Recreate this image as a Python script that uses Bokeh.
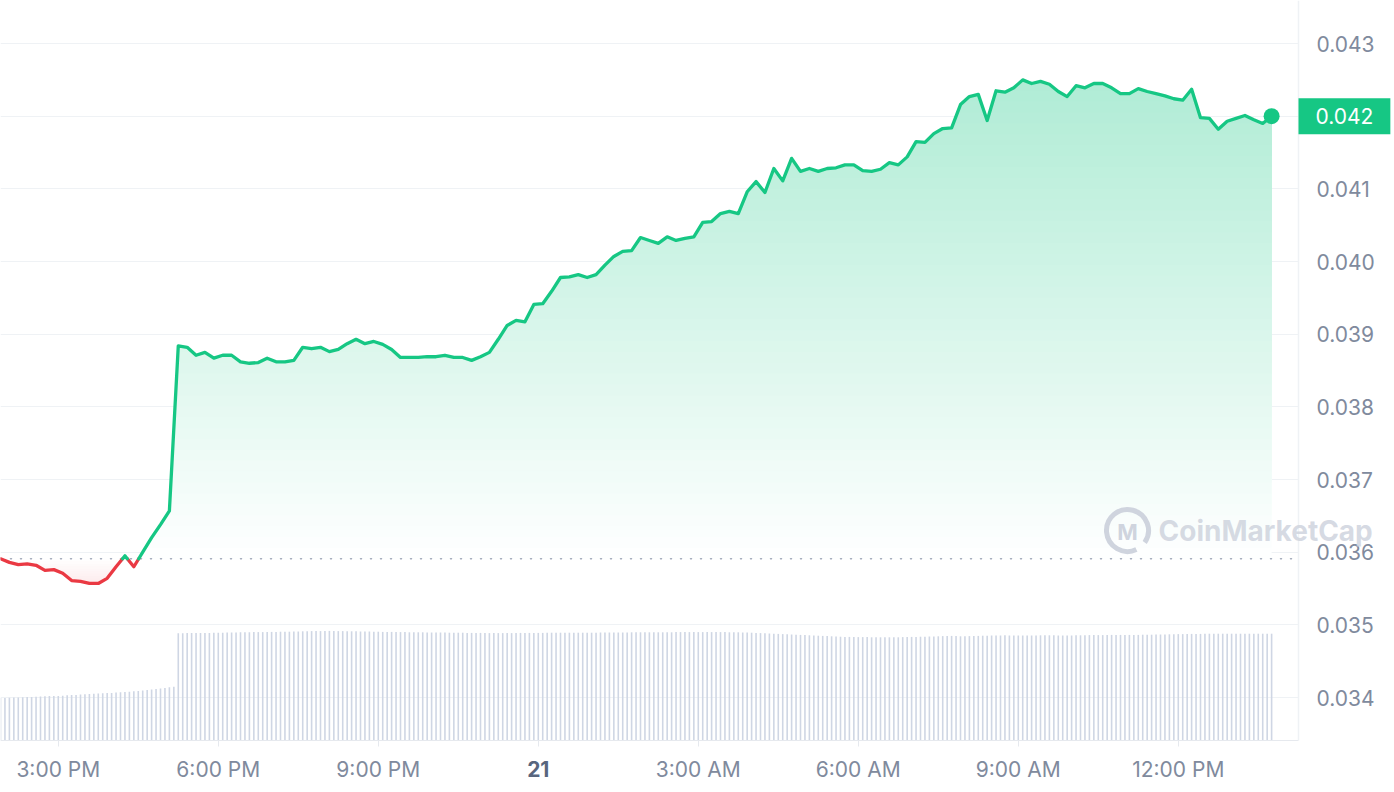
import numpy as np
import pandas as pd
from bokeh.plotting import figure
from bokeh.models import Range1d, FixedTicker, Label
from bokeh.embed import file_html
from bokeh.resources import INLINE

# ---------------- data ----------------
START = "2024-05-20 13:55"

price = [
    0.03591, 0.03586, 0.03583, 0.03584, 0.03582, 0.03575, 0.03576, 0.03571, 0.03561, 0.03560,
    0.03557, 0.03557, 0.03564, 0.03580, 0.03595, 0.03580, 0.03600, 0.03620, 0.03638, 0.03657,
    0.03884, 0.03882, 0.03871, 0.03875, 0.03867, 0.03871, 0.03871, 0.03862, 0.03860, 0.03861,
    0.03867, 0.03862, 0.03862, 0.03864, 0.03882, 0.03880, 0.03882, 0.03876, 0.03879, 0.03887,
    0.03893, 0.03887, 0.03890, 0.03886, 0.03879, 0.03868, 0.03868, 0.03868, 0.03869, 0.03869,
    0.03871, 0.03868, 0.03868, 0.03864, 0.03869, 0.03875, 0.03893, 0.03912, 0.03919, 0.03917,
    0.03941, 0.03942, 0.03959, 0.03978, 0.03979, 0.03982, 0.03978, 0.03982, 0.03995, 0.04007,
    0.04014, 0.04015, 0.04033, 0.04029, 0.04025, 0.04034, 0.04029, 0.04032, 0.04034, 0.04054,
    0.04055, 0.04066, 0.04069, 0.04066, 0.04096, 0.04110, 0.04095, 0.04128, 0.04111, 0.04142,
    0.04124, 0.04128, 0.04124, 0.04128, 0.04129, 0.04133, 0.04133, 0.04125, 0.04124, 0.04127,
    0.04136, 0.04133, 0.04144, 0.04165, 0.04164, 0.04176, 0.04183, 0.04184, 0.04216, 0.04227,
    0.04230, 0.04194, 0.04235, 0.04233, 0.04239, 0.04250, 0.04245, 0.04248, 0.04244, 0.04234,
    0.04227, 0.04242, 0.04239, 0.04245, 0.04245, 0.04239, 0.04231, 0.04231, 0.04238, 0.04234,
    0.04231, 0.04228, 0.04224, 0.04222, 0.04237, 0.04198, 0.04197, 0.04182, 0.04193, 0.04197,
    0.04201, 0.04195, 0.04190, 0.04200,
]

# 24h volume (millions), one bar every 5 minutes
volume_m = [
    2.12, 2.13, 2.14, 2.15, 2.15, 2.16, 2.17, 2.18, 2.19, 2.20,
    2.21, 2.22, 2.23, 2.23, 2.24, 2.26, 2.27, 2.28, 2.30, 2.31,
    2.33, 2.34, 2.35, 2.36, 2.37, 2.38, 2.40, 2.41, 2.43, 2.44,
    2.46, 2.48, 2.50, 2.52, 2.55, 2.57, 2.60, 2.63, 2.66, 2.69,
    5.36, 5.36, 5.37, 5.37, 5.37, 5.38, 5.38, 5.38, 5.39, 5.39,
    5.39, 5.40, 5.40, 5.40, 5.41, 5.41, 5.41, 5.42, 5.42, 5.42,
    5.43, 5.43, 5.43, 5.44, 5.44, 5.44, 5.45, 5.45, 5.46, 5.46,
    5.47, 5.47, 5.47, 5.48, 5.48, 5.47, 5.47, 5.47, 5.46, 5.46,
    5.46, 5.45, 5.45, 5.45, 5.44, 5.44, 5.43, 5.43, 5.43, 5.42,
    5.42, 5.42, 5.41, 5.41, 5.41, 5.41, 5.40, 5.40, 5.40, 5.40,
    5.40, 5.39, 5.39, 5.39, 5.39, 5.38, 5.38, 5.38, 5.38, 5.37,
    5.37, 5.37, 5.37, 5.37, 5.37, 5.37, 5.37, 5.38, 5.38, 5.38,
    5.38, 5.38, 5.38, 5.39, 5.39, 5.39, 5.39, 5.39, 5.39, 5.39,
    5.39, 5.39, 5.39, 5.39, 5.39, 5.40, 5.40, 5.40, 5.40, 5.40,
    5.40, 5.40, 5.41, 5.41, 5.41, 5.41, 5.41, 5.41, 5.41, 5.41,
    5.41, 5.41, 5.42, 5.42, 5.42, 5.42, 5.42, 5.42, 5.42, 5.42,
    5.42, 5.42, 5.42, 5.42, 5.41, 5.41, 5.41, 5.40, 5.40, 5.39,
    5.38, 5.37, 5.36, 5.35, 5.34, 5.33, 5.32, 5.31, 5.30, 5.29,
    5.28, 5.27, 5.26, 5.25, 5.24, 5.23, 5.22, 5.21, 5.20, 5.19,
    5.18, 5.18, 5.17, 5.17, 5.17, 5.17, 5.16, 5.16, 5.16, 5.16,
    5.16, 5.16, 5.16, 5.17, 5.17, 5.18, 5.18, 5.19, 5.19, 5.20,
    5.20, 5.21, 5.22, 5.22, 5.23, 5.23, 5.21, 5.21, 5.22, 5.22,
    5.23, 5.24, 5.24, 5.25, 5.25, 5.25, 5.26, 5.25, 5.25, 5.25,
    5.25, 5.25, 5.25, 5.25, 5.26, 5.26, 5.26, 5.26, 5.25, 5.25,
    5.25, 5.25, 5.26, 5.26, 5.26, 5.27, 5.27, 5.27, 5.27, 5.27,
    5.28, 5.28, 5.28, 5.28, 5.28, 5.28, 5.28, 5.29, 5.29, 5.29,
    5.30, 5.30, 5.30, 5.31, 5.31, 5.32, 5.32, 5.33, 5.33, 5.33,
    5.33, 5.34, 5.34, 5.34, 5.34, 5.34, 5.34, 5.34, 5.34, 5.34,
    5.34, 5.34, 5.34, 5.34, 5.34, 5.34, 5.34,
]

x_tick_times = ["2024-05-20 15:00", "2024-05-20 18:00", "2024-05-20 21:00", "2024-05-21 00:00",
                "2024-05-21 03:00", "2024-05-21 06:00", "2024-05-21 09:00", "2024-05-21 12:00"]
x_tick_labels = ["3:00 PM", "6:00 PM", "9:00 PM", "21", "3:00 AM", "6:00 AM", "9:00 AM", "12:00 PM"]
y_ticks = [0.034, 0.035, 0.036, 0.037, 0.038, 0.039, 0.040, 0.041, 0.042, 0.043]
y_tick_labels = ["0.034", "0.035", "0.036", "0.037", "0.038", "0.039", "0.040", "0.041", "0.042", "0.043"]

# ---------------- style / layout ----------------
GREEN = "#16c784"
RED = "#ea3943"
LABEL = "#808a9d"
GRID = "#eff2f5"
FONT = "Inter"

W, H = 1392, 790
PX_PER_HOUR = 160 / 3.0          # horizontal scale
PX_PER_PRICE = 72670.0           # vertical scale (px per 1.0 of price)
PRICE_AT_TOP = 0.043592          # price at the top edge of the canvas
VOL_PER_PX = 0.05                # volume (M) per px
CHART_RIGHT = 1298               # px: right edge of plotting area (axis line)
CHART_BOTTOM = 740               # px: bottom of plotting area (axis line)


def to_ms(idx):
    return idx.values.astype("datetime64[ms]").astype("int64").astype(float)


tp = to_ms(pd.date_range(START, periods=len(price), freq="10min"))
tv = to_ms(pd.date_range(START, periods=len(volume_m), freq="5min"))
ticks_ms = to_ms(pd.to_datetime(x_tick_times))
ps = np.array(price)
base = ps[0]

t0 = tp[0]
ms_per_px = 3600e3 / PX_PER_HOUR


def X(px):
    return t0 + px * ms_per_px


def Y(py):
    return PRICE_AT_TOP - py / PX_PER_PRICE


p = figure(width=W, height=H, output_backend="svg", toolbar_location=None,
           x_axis_type="datetime", y_axis_location="right",
           x_range=Range1d(X(0), X(W)), y_range=Range1d(Y(H), Y(0)),
           min_border_left=0, min_border_top=0, min_border_right=0, min_border_bottom=0)
p.outline_line_color = None
p.background_fill_color = "white"
p.border_fill_color = "white"
p.extra_y_ranges = {"vol": Range1d(-(H - CHART_BOTTOM) * VOL_PER_PX, CHART_BOTTOM * VOL_PER_PX)}

# grids
p.xgrid.visible = False
g = p.ygrid[0]
g.ticker = FixedTicker(ticks=y_ticks)
g.grid_line_color = GRID
g.grid_line_width = 1
if "cross_bounds" in g.properties():
    g.cross_bounds = (X(0), X(CHART_RIGHT))

# axes (fixed inside the canvas)
xa = p.xaxis[0]
xa.fixed_location = Y(CHART_BOTTOM)
xa.bounds = (X(0), X(CHART_RIGHT))
xa.ticker = FixedTicker(ticks=list(ticks_ms))
xa.major_label_overrides = {float(t): (lab if lab != "21" else "") for t, lab in zip(ticks_ms, x_tick_labels)}
xa.axis_line_color = "#e6e9ee"
xa.major_tick_line_color = "#e6e9ee"
xa.major_tick_out = 6
xa.major_tick_in = 0
xa.minor_tick_line_color = None
xa.major_label_text_font = FONT
xa.major_label_text_font_size = "21px"
xa.major_label_text_color = LABEL
xa.major_label_standoff = 10

ya = p.yaxis[0]
ya.fixed_location = X(CHART_RIGHT)
ya.bounds = (Y(CHART_BOTTOM), Y(0))
ya.ticker = FixedTicker(ticks=y_ticks)
ya.major_label_overrides = {t: (lab if lab != "0.042" else "") for t, lab in zip(y_ticks, y_tick_labels)}
ya.axis_line_color = GRID
ya.axis_line_width = 1.5
ya.major_tick_line_color = None
ya.minor_tick_line_color = None
ya.major_tick_out = 0
ya.major_tick_in = 0
ya.major_label_standoff = 18
ya.major_label_text_font = FONT
ya.major_label_text_font_size = "21px"
ya.major_label_text_color = LABEL

# volume bars
p.vbar(x=tv, top=volume_m, bottom=0, width=1.6 * ms_per_px, y_range_name="vol",
       fill_color="#cfd6e4", line_color=None)


# geometry helper: add points where the polyline crosses given levels (render only)
def with_crossings(x, y, levels):
    XX, YY = [x[0]], [y[0]]
    for i in range(len(x) - 1):
        a, b = y[i], y[i + 1]
        cr = []
        for L in levels:
            if (a - L) * (b - L) < 0:
                cr.append(((L - a) / (b - a), L))
        cr.sort()
        for t, L in cr:
            XX.append(x[i] + t * (x[i + 1] - x[i]))
            YY.append(L)
        XX.append(x[i + 1])
        YY.append(b)
    return np.array(XX), np.array(YY)


def tint(hex_color, alpha):
    r, g_, b = int(hex_color[1:3], 16), int(hex_color[3:5], 16), int(hex_color[5:7], 16)
    mix = lambda c: int(round(255 * (1 - alpha) + c * alpha))
    return "#%02x%02x%02x" % (mix(r), mix(g_), mix(b))


# gradient fills: nested opaque layers
top = ps.max()
NG = 44
g_edges = np.linspace(base, top, NG + 1)
g_levels = list(g_edges[:-1])
low = ps.min()
NR = 10
r_edges = np.linspace(base, low, NR + 1)
r_levels = list(r_edges[:-1])
Xd, Yd = with_crossings(tp, ps, g_levels + r_levels)

for k, L in enumerate(g_levels):
    a = 0.34 * (k + 0.5) / NG
    p.varea(x=Xd, y1=np.full_like(Yd, L), y2=np.maximum(Yd, L), fill_color=tint(GREEN, a))

for k, L in enumerate(r_levels):
    a = 0.10 * (k + 0.5) / NR
    p.varea(x=Xd, y1=np.minimum(Yd, L), y2=np.full_like(Yd, L), fill_color=tint(RED, a))

# baseline (open price) dotted, across the plotting area
p.segment(x0=[X(0)], y0=[base], x1=[X(CHART_RIGHT)], y1=[base], line_color="#a3abbb",
          line_width=1.5, line_dash="1 9", line_cap="round")


# price line split into green/red runs at the baseline
def split_runs(x, y, b):
    greens, reds = [], []
    cx, cy = [x[0]], [y[0]]
    up = y[0] > b
    for i in range(len(x) - 1):
        a, c = y[i], y[i + 1]
        up2 = c > b
        if up2 != up:
            t = (b - a) / (c - a)
            xc = x[i] + t * (x[i + 1] - x[i])
            cx.append(xc)
            cy.append(b)
            (greens if up else reds).append((cx, cy))
            cx, cy = [xc], [b]
            up = up2
        cx.append(x[i + 1])
        cy.append(c)
    (greens if up else reds).append((cx, cy))
    return greens, reds


greens, reds = split_runs(tp, ps, base)
p.multi_line(xs=[r[0] for r in reds], ys=[r[1] for r in reds], line_color=RED, line_width=3.3,
             line_join="round", line_cap="round")
p.multi_line(xs=[gg[0] for gg in greens], ys=[gg[1] for gg in greens], line_color=GREEN, line_width=3.3,
             line_join="round", line_cap="round")

# last point dot
p.scatter(x=[tp[-1]], y=[ps[-1]], size=16, fill_color=GREEN, line_color=None)

# watermark
p.arc(x=[X(1127)], y=[Y(530)], radius=21, radius_units="screen",
      start_angle=np.radians(-35), end_angle=np.radians(295),
      line_color="#cfd4de", line_width=5)
p.add_layout(Label(x=X(1127), y=Y(531), text="M", text_font=FONT, text_font_size="22px",
                   text_font_style="bold", text_color="#cfd4de", text_align="center",
                   text_baseline="middle"))
p.add_layout(Label(x=X(1158), y=Y(530), text="CoinMarketCap", text_font=FONT, text_font_size="28px",
                   text_font_style="bold", text_color="#cfd4de", text_alpha=0.85,
                   text_align="left", text_baseline="middle"))

# bold day label
p.add_layout(Label(x=ticks_ms[x_tick_labels.index("21")], y=Y(768), text="21",
                   text_font=FONT, text_font_size="21px", text_font_style="bold",
                   text_color="#58667e", text_align="center", text_baseline="middle"))

# current price tag
p.add_layout(Label(x=X(CHART_RIGHT), y=ps[-1], text=f"{ps[-1]:.3f}", text_font=FONT,
                   text_font_size="21px", text_color="white", text_align="left",
                   text_baseline="middle", background_fill_color=GREEN, padding=(17, 10)))

open("out.html", "w").write(file_html(p, INLINE))
